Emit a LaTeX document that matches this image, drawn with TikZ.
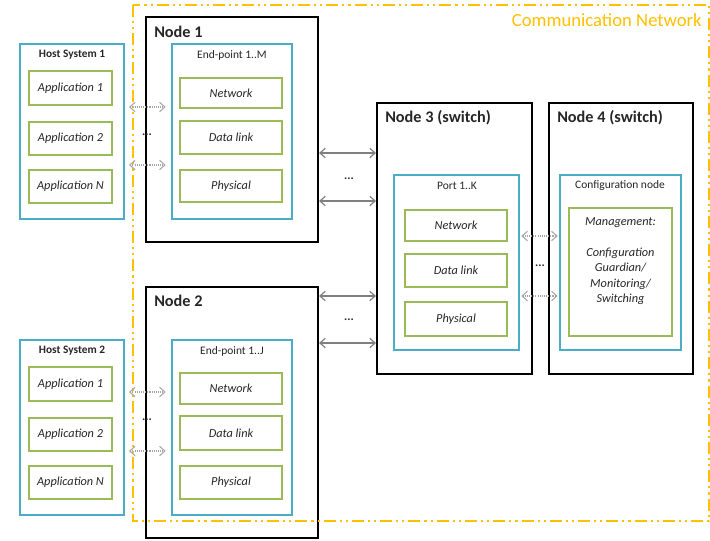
\documentclass[tikz,border=0pt]{standalone}
\usepackage{fontspec}
\setmainfont{Carlito}
\usetikzlibrary{fit,arrows.meta}
\definecolor{netorange}{HTML}{FFC000}
\definecolor{boxcyan}{HTML}{4BACC6}
\definecolor{boxgreen}{HTML}{9BBB59}
\definecolor{txt}{HTML}{262626}
\definecolor{linkgray}{HTML}{808080}
\definecolor{dotgray}{HTML}{A6A6A6}
\tikzset{
  nodebox/.style={draw=black, line width=1.5pt, fill=white, inner sep=0pt},
  cyanbox/.style={draw=boxcyan, line width=1.4pt, inner sep=0pt},
  greenbox/.style={draw=boxgreen, line width=1.4pt, inner sep=0pt},
  nodetitle/.style={anchor=west, inner sep=0pt, text=txt, font=\bfseries\fontsize{12.2pt}{14pt}\selectfont},
  hosttitle/.style={inner sep=0pt, text=txt, font=\bfseries\fontsize{8.5pt}{10pt}\selectfont},
  eptitle/.style={inner sep=0pt, text=txt, font=\fontsize{8.6pt}{10pt}\selectfont},
  layer/.style={inner sep=0pt, text=txt, font=\itshape\fontsize{9.2pt}{11pt}\selectfont},
  dots/.style={inner sep=0pt, text=txt, font=\bfseries\fontsize{9pt}{10pt}\selectfont},
  tip/.style={{Straight Barb[length=4pt,width=7pt]}-{Straight Barb[length=4pt,width=7pt]}},
  link/.style={tip, draw=linkgray, line width=0.9pt},
  dlink/.style={tip, draw=dotgray, line width=0.8pt, dash pattern=on 0.8pt off 0.8pt},
  netframe/.style={draw=netorange, line width=1.6pt,
    dash pattern=on 9pt off 3pt on 1.6pt off 3pt on 1.6pt off 3pt}
}
\begin{document}
\begin{tikzpicture}[x=0.75pt,y=-0.75pt]
\useasboundingbox (0,0) rectangle (710,541);

% ---------- Node 1 with its end-point stack ----------
\node[nodebox, fit={(146,17)(318,242)}] (n1) {};
\node[nodetitle] (n1t) at (154,32) {Node 1};
\node[cyanbox, fit={(172,44)(292,219)}] (ep1) {};
\node[eptitle] (ep1t) at (232,55) {End-point 1..M};
\node[greenbox, fit={(180,78)(282,108)}] (ep1net) {};
\node[layer] at (ep1net.center) {Network};
\node[greenbox, fit={(180,121)(282,154)}] (ep1dl) {};
\node[layer] at (ep1dl.center) {Data link};
\node[greenbox, fit={(180,170)(282,202)}] (ep1ph) {};
\node[layer] at (ep1ph.center) {Physical};

% ---------- Node 2 with its end-point stack ----------
\node[nodebox, fit={(146,287)(318,538)}] (n2) {};
\node[nodetitle] (n2t) at (154,301) {Node 2};
\node[cyanbox, fit={(172,340)(292,515)}] (ep2) {};
\node[eptitle] (ep2t) at (232,351) {End-point 1..J};
\node[greenbox, fit={(180,373)(282,404)}] (ep2net) {};
\node[layer] at (ep2net.center) {Network};
\node[greenbox, fit={(180,416)(282,450)}] (ep2dl) {};
\node[layer] at (ep2dl.center) {Data link};
\node[greenbox, fit={(180,466)(282,499)}] (ep2ph) {};
\node[layer] at (ep2ph.center) {Physical};

% ---------- Node 3 (switch) ----------
\node[nodebox, fit={(377,103)(532,374)}] (n3) {};
\node[nodetitle] (n3t) at (385,118) {Node 3 (switch)};
\node[cyanbox, fit={(394,175)(519,350)}] (port) {};
\node[eptitle] (portt) at (457,186) {Port 1..K};
\node[greenbox, fit={(405,210)(507,241)}] (pnet) {};
\node[layer] at (pnet.center) {Network};
\node[greenbox, fit={(405,254)(507,287)}] (pdl) {};
\node[layer] at (pdl.center) {Data link};
\node[greenbox, fit={(405,302)(507,336)}] (pph) {};
\node[layer] at (pph.center) {Physical};

% ---------- Node 4 (switch) ----------
\node[nodebox, fit={(549,103)(693,374)}] (n4) {};
\node[nodetitle] (n4t) at (557,118) {Node 4 (switch)};
\node[cyanbox, fit={(560,175)(681,350)}] (cfg) {};
\node[eptitle] (cfgt) at (620,186) {Configuration node};
\node[greenbox, fit={(569,208)(672,336)}] (mgmt) {};
\node[layer, align=center, font=\itshape\fontsize{9.2pt}{11.6pt}\selectfont] (mgmtt) at (620.5,261)
  {Management:\\[11.6pt]Configuration\\Guardian/\\Monitoring/\\Switching};

% ---------- Host systems ----------
\node[cyanbox, fit={(20,44)(124,219)}] (h1) {};
\node[hosttitle] (h1t) at (72,55) {Host System 1};
\node[greenbox, fit={(29,71)(112,105)}] (h1a1) {};
\node[layer] at (h1a1.center) {Application 1};
\node[greenbox, fit={(29,122)(112,155)}] (h1a2) {};
\node[layer] at (h1a2.center) {Application 2};
\node[greenbox, fit={(29,170)(112,203)}] (h1an) {};
\node[layer] at (h1an.center) {Application N};

\node[cyanbox, fit={(20,340)(124,515)}] (h2) {};
\node[hosttitle] (h2t) at (72,351) {Host System 2};
\node[greenbox, fit={(29,367)(112,401)}] (h2a1) {};
\node[layer] at (h2a1.center) {Application 1};
\node[greenbox, fit={(29,418)(112,451)}] (h2a2) {};
\node[layer] at (h2a2.center) {Application 2};
\node[greenbox, fit={(29,466)(112,499)}] (h2an) {};
\node[layer] at (h2an.center) {Application N};

% ---------- Communication network boundary ----------
\draw[netframe] (133,5) rectangle (709,521);
\node[anchor=east, inner sep=0pt, text=netorange, font=\fontsize{14pt}{16pt}\selectfont] (cnt) at (702,20) {Communication Network};

% ---------- Links ----------
\draw[dlink, shorten <=3pt, shorten >=4pt] (h1.east |- 0,107) -- (ep1.west |- 0,107);
\draw[dlink, shorten <=3pt, shorten >=4pt] (h1.east |- 0,165) -- (ep1.west |- 0,165);
\draw[dlink, shorten <=3pt, shorten >=4pt] (h2.east |- 0,392) -- (ep2.west |- 0,392);
\draw[dlink, shorten <=3pt, shorten >=4pt] (h2.east |- 0,451) -- (ep2.west |- 0,451);

\draw[link] (n1.east |- 0,153) -- (n3.west |- 0,153);
\draw[link] (n1.east |- 0,201) -- (n3.west |- 0,201);
\draw[link] (n2.east |- 0,296) -- (n3.west |- 0,296);
\draw[link] (n2.east |- 0,343) -- (n3.west |- 0,343);

\draw[dlink, shorten <=1pt, shorten >=1pt] (port.east |- 0,236) -- (cfg.west |- 0,236);
\draw[dlink, shorten <=1pt, shorten >=1pt] (port.east |- 0,296) -- (cfg.west |- 0,296);

% ---------- Ellipses between repeated links ----------
\node[dots] (e1) at (147,135) {...};
\node[dots] (e2) at (147,420) {...};
\node[dots] (e3) at (349,179) {...};
\node[dots] (e4) at (349,320) {...};
\node[dots] (e5) at (540,266) {...};
\end{tikzpicture}
\end{document}
